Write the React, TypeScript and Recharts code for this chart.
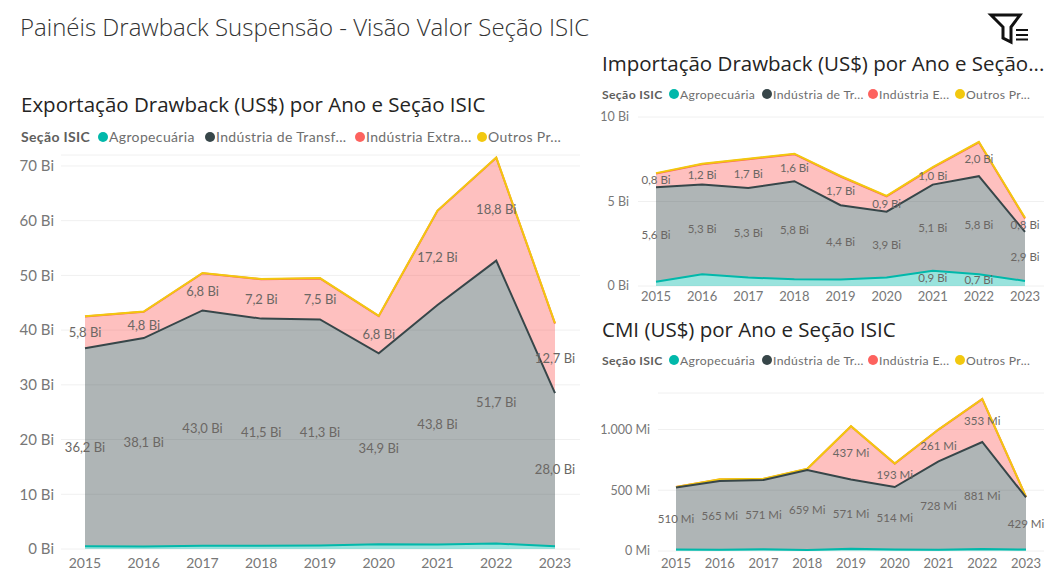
import { ComposedChart, Area, Line, XAxis, YAxis, CartesianGrid, ReferenceDot } from "recharts";

const years = [2015, 2016, 2017, 2018, 2019, 2020, 2021, 2022, 2023];

const seriesColors = ["#01B8AA", "#374649", "#FD625E", "#F2C80F"];

// Exportação (Bi)
const expAgro = [0.5, 0.45, 0.6, 0.6, 0.65, 0.85, 0.8, 1.0, 0.5];
const expTransf = [36.2, 38.1, 43.0, 41.5, 41.3, 34.9, 43.8, 51.7, 28.0];
const expExtra = [5.8, 4.8, 6.8, 7.2, 7.5, 6.8, 17.2, 18.8, 12.7];
const expOutros = [0.05, 0.05, 0.05, 0.05, 0.05, 0.05, 0.05, 0.05, 0.05];
const expTicks = [0, 10, 20, 30, 40, 50, 60, 70];

// Importação (Bi)
const impAgro = [0.25, 0.7, 0.5, 0.4, 0.38, 0.5, 0.9, 0.7, 0.3];
const impTransf = [5.6, 5.3, 5.3, 5.8, 4.4, 3.9, 5.1, 5.8, 2.9];
const impExtra = [0.8, 1.2, 1.7, 1.6, 1.7, 0.9, 1.0, 2.0, 0.8];
const impOutros = [0.03, 0.03, 0.03, 0.03, 0.03, 0.03, 0.03, 0.03, 0.03];
const impAgroLabels = [null, null, null, null, null, null, 0.9, 0.7, null];
const impTicks = [0, 5, 10];

// CMI (Mi)
const cmiAgro = [12, 10, 14, 8, 18, 12, 10, 16, 12];
const cmiTransf = [510, 565, 571, 659, 571, 514, 728, 881, 429];
const cmiExtra = [4, 14, 8, 8, 437, 193, 261, 353, 4];
const cmiOutros = [1, 1, 1, 1, 1, 1, 1, 1, 1];
const cmiExtraLabels = [null, null, null, null, 437, 193, 261, 353, null];
const cmiTicks = [0, 500, 1000];

const TEXT_FONT = "'Open Sans', sans-serif";
const DIN_FONT = "Lato, sans-serif";

const biLabel = (v: number) => `${v.toFixed(1).replace(".", ",")} Bi`;
const miLabel = (v: number) => `${v} Mi`;
const biTick = (v: number) => `${v} Bi`;
const miTick = (v: number) => `${v.toLocaleString("pt-BR")} Mi`;

function buildRows(a: number[], b: number[], c: number[], d: number[]) {
  return years.map((year, i) => ({ year, agro: a[i], transf: b[i], extra: c[i], outros: d[i], transfTop: a[i] + b[i] }));
}

function midLabels(
  base: number[],
  values: (number | null)[],
  format: (v: number) => string,
  keyName: string,
  fontSize: number,
) {
  return values.map((v, i) =>
    v === null ? null : (
      <ReferenceDot
        key={keyName + years[i]}
        x={years[i]}
        y={base[i] + v / 2}
        r={0}
        fill="none"
        stroke="none"
        label={{ value: format(v), position: "center", fontSize, fill: "#6b6764", fontFamily: DIN_FONT }}
      />
    ),
  );
}

function Legend({ left, top, labels, stops, fontSize }: { left: number; top: number; labels: string[]; stops: number[]; fontSize: number }) {
  return (
    <div style={{ position: "absolute", left, top, height: 16, fontSize, letterSpacing: 0.35, lineHeight: "16px", fontFamily: DIN_FONT, color: "#6e6e6e", whiteSpace: "nowrap" }}>
      <span style={{ position: "absolute", left: 0, fontWeight: 700, color: "#605E5C" }}>Seção ISIC</span>
      {labels.map((label, i) => (
        <span key={label} style={{ position: "absolute", left: stops[i] }}>
          <span style={{ display: "inline-block", width: 10, height: 10, borderRadius: "50%", background: seriesColors[i], marginRight: 1 }} />
          {label}
        </span>
      ))}
    </div>
  );
}

type PanelProps = {
  left: number;
  top: number;
  width: number;
  height: number;
  yAxisWidth: number;
  yMargin: number;
  xHeight: number;
  xMargin: number;
  xFont: number;
  yFont: number;
  padLeft: number;
  padRight: number;
  domainMax: number;
  ticks: number[];
  rows: ReturnType<typeof buildRows>;
  tickFormat: (v: number) => string;
  children: React.ReactNode;
};

function Panel(p: PanelProps) {
  return (
    <div style={{ position: "absolute", left: p.left, top: p.top }}>
      <ComposedChart width={p.width} height={p.height} data={p.rows} margin={{ top: 10, right: 4, bottom: 0, left: 0 }}>
        <CartesianGrid vertical={false} stroke="#f0f0f0" strokeWidth={1} />
        <XAxis
          dataKey="year"
          axisLine={false}
          tickLine={false}
          tickSize={0}
          height={p.xHeight}
          interval={0}
          padding={{ left: p.padLeft, right: p.padRight }}
          tickMargin={p.xMargin}
          tick={{ fontSize: p.xFont, fill: "#777", fontFamily: DIN_FONT }}
        />
        <YAxis
          width={p.yAxisWidth}
          axisLine={false}
          tickLine={false}
          tickSize={0}
          domain={[0, p.domainMax]}
          ticks={p.ticks}
          interval={0}
          tickFormatter={p.tickFormat}
          tickMargin={p.yMargin}
          tick={{ fontSize: p.yFont, fill: "#777", fontFamily: DIN_FONT }}
        />
        <Area type="linear" dataKey="agro" stackId="1" stroke="none" fill={seriesColors[0]} fillOpacity={0.4} dot={false} activeDot={false} isAnimationActive={false} />
        <Area type="linear" dataKey="transf" stackId="1" stroke="none" fill={seriesColors[1]} fillOpacity={0.4} dot={false} activeDot={false} isAnimationActive={false} />
        <Area type="linear" dataKey="extra" stackId="1" stroke={seriesColors[2]} strokeWidth={2} fill={seriesColors[2]} fillOpacity={0.4} dot={false} activeDot={false} isAnimationActive={false} />
        <Area type="linear" dataKey="outros" stackId="1" stroke={seriesColors[3]} strokeWidth={2} fill={seriesColors[3]} fillOpacity={0.4} dot={false} activeDot={false} isAnimationActive={false} />
        {/* the band outlines sit above the fills, as they do in the original */}
        <Line type="linear" dataKey="agro" stroke={seriesColors[0]} strokeWidth={2} dot={false} activeDot={false} isAnimationActive={false} />
        <Line type="linear" dataKey="transfTop" stroke={seriesColors[1]} strokeWidth={2} dot={false} activeDot={false} isAnimationActive={false} />
        {p.children}
      </ComposedChart>
    </div>
  );
}

const titleStyle = (left: number, top: number, fontSize: number): React.CSSProperties => ({
  position: "absolute",
  left,
  top,
  fontSize,
  lineHeight: "30px",
  fontFamily: TEXT_FONT,
  color: "#252423",
  whiteSpace: "nowrap",
});

function sum(...arrays: number[][]) {
  return years.map((_, i) => arrays.reduce((t, a) => t + a[i], 0));
}

export default function App() {
  return (
    <div style={{ position: "absolute", left: 0, top: 0, width: 1046, height: 573, overflow: "hidden", background: "#fff" }}>
      <div style={{ ...titleStyle(20, 12, 24), color: "#333", fontWeight: 300 }}>Painéis Drawback Suspensão - Visão Valor Seção ISIC</div>

      <svg style={{ position: "absolute", left: 985, top: 10 }} width={44} height={36} fill="none" stroke="#111" strokeWidth={3}>
        <path d="M6 5 H35 L26 17 V32 L18 28 V17 Z" />
        <path d="M31 20 H43 M31 25 H43 M31 29.5 H43" strokeWidth={2} />
      </svg>

      <div style={titleStyle(21, 89, 20.5)}>Exportação Drawback (US$) por Ano e Seção ISIC</div>
      <Legend left={21} top={129} fontSize={14} labels={["Agropecuária", "Indústria de Transf...", "Indústria Extra...", "Outros Pr..."]} stops={[77, 184, 334, 456]} />
      <Panel left={0} top={145} width={584} height={428} yAxisWidth={61} yMargin={7} xHeight={24} xMargin={9} xFont={14} yFont={15} padLeft={24} padRight={25} domainMax={72} ticks={expTicks} rows={buildRows(expAgro, expTransf, expExtra, expOutros)} tickFormat={biTick}>
        {midLabels(expAgro, expTransf, biLabel, "exp-t", 13)}
        {midLabels(sum(expAgro, expTransf), expExtra, biLabel, "exp-e", 13)}
      </Panel>

      <div style={titleStyle(602, 48, 20.5)}>Importação Drawback (US$) por Ano e Seção...</div>
      <Legend left={602} top={87} fontSize={12.2} labels={["Agropecuária", "Indústria de Tr...", "Indústria E...", "Outros Pr..."]} stops={[67, 160, 266, 353]} />
      <Panel left={595} top={107} width={453} height={203} yAxisWidth={43} yMargin={9} xHeight={24} xMargin={6} xFont={13} yFont={12.5} padLeft={18} padRight={19} domainMax={10} ticks={impTicks} rows={buildRows(impAgro, impTransf, impExtra, impOutros)} tickFormat={biTick}>
        {midLabels(impAgro, impTransf, biLabel, "imp-t", 11.5)}
        {midLabels(sum(impAgro, impTransf), impExtra, biLabel, "imp-e", 11.5)}
        {midLabels(impAgro.map(() => 0), impAgroLabels, biLabel, "imp-a", 11.5)}
      </Panel>

      <div style={titleStyle(602, 314, 20.5)}>CMI (US$) por Ano e Seção ISIC</div>
      <Legend left={602} top={353} fontSize={12.2} labels={["Agropecuária", "Indústria de Tr...", "Indústria E...", "Outros Pr..."]} stops={[67, 160, 266, 353]} />
      <Panel left={595} top={383} width={453} height={190} yAxisWidth={63} yMargin={8} xHeight={22} xMargin={8} xFont={13} yFont={12.5} padLeft={18} padRight={18} domainMax={1300} ticks={cmiTicks} rows={buildRows(cmiAgro, cmiTransf, cmiExtra, cmiOutros)} tickFormat={miTick}>
        {midLabels(cmiAgro, cmiTransf, miLabel, "cmi-t", 11.5)}
        {midLabels(sum(cmiAgro, cmiTransf), cmiExtraLabels, miLabel, "cmi-e", 11.5)}
      </Panel>
    </div>
  );
}
